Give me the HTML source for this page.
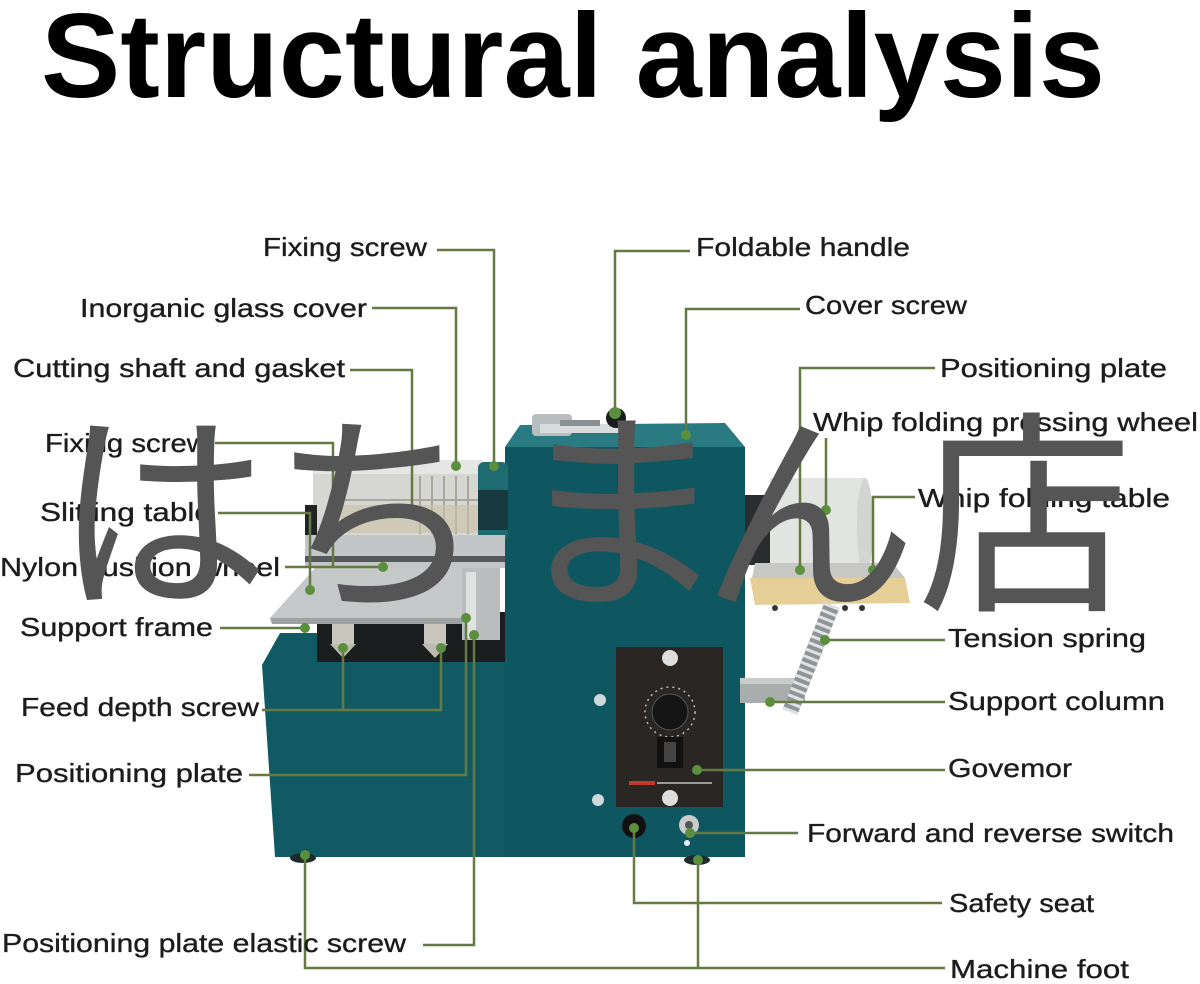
<!DOCTYPE html>
<html><head><meta charset="utf-8"><style>
html,body{margin:0;padding:0;background:#fff;}
svg{display:block;}
.lb{font-family:"Liberation Sans",sans-serif;font-size:26px;fill:#1c1c1c;stroke:#1c1c1c;stroke-width:0.35px;}
</style></head><body>
<svg width="1200" height="984" viewBox="0 0 1200 984" xmlns="http://www.w3.org/2000/svg">
<rect width="1200" height="984" fill="#fff"/>
<text x="41" y="97" font-family="Liberation Sans, sans-serif" font-weight="bold" font-size="120" fill="#000" textLength="1064" lengthAdjust="spacingAndGlyphs">Structural analysis</text>

<!-- machine -->
<polygon points="262,665 280,633 505,633 505,857 275,857" fill="#115a63"/>
<polygon points="505,447 520,425 725,423 745,447" fill="#2a7a82"/>
<rect x="505" y="447" width="240" height="410" fill="#0e5760"/>
<rect x="532" y="414" width="40" height="22" rx="4" fill="#b8bec0"/>
<rect x="540" y="424" width="90" height="9" fill="#d9dcdc"/>
<rect x="560" y="420" width="40" height="6" fill="#8a9193"/>
<circle cx="616" cy="418" r="10" fill="#1a1d1e"/>
<rect x="317" y="612" width="188" height="50" fill="#1b1e1f"/>
<rect x="332" y="618" width="22" height="28" rx="3" fill="#c8c6bd"/>
<polygon points="330,644 356,644 343,658" fill="#bdbab0"/>
<rect x="424" y="618" width="22" height="28" rx="3" fill="#c8c6bd"/>
<polygon points="422,644 448,644 435,658" fill="#bdbab0"/>
<rect x="313" y="460" width="170" height="76" fill="#d6d7d3"/>
<rect x="313" y="460" width="170" height="14" fill="#e6e7e4"/>
<g stroke="#a8a79c" stroke-width="2">
<line x1="420" y1="476" x2="420" y2="534"/><line x1="432" y1="476" x2="432" y2="534"/><line x1="444" y1="476" x2="444" y2="534"/><line x1="456" y1="476" x2="456" y2="534"/><line x1="468" y1="476" x2="468" y2="534"/>
<line x1="340" y1="500" x2="480" y2="500"/>
</g>
<rect x="330" y="505" width="150" height="28" fill="#c9bfa6" opacity="0.6"/>
<rect x="305" y="505" width="12" height="32" fill="#222"/>
<rect x="478" y="462" width="30" height="78" rx="6" fill="#1f6b72"/>
<rect x="478" y="490" width="30" height="40" fill="#173a3e"/>
<rect x="305" y="535" width="200" height="33" fill="#c3c6c7"/>
<rect x="305" y="556" width="200" height="6" fill="#55595b"/>
<polygon points="270,618 315,568 470,568 464,618" fill="#c6c9ca"/>
<polygon points="270,618 464,618 462,624 272,624" fill="#9ea2a3"/>
<rect x="462" y="568" width="38" height="72" fill="#b9bdbe"/>
<rect x="466" y="572" width="10" height="66" fill="#e0e2e2"/>
<rect x="745" y="495" width="30" height="70" fill="#2a2d2e"/>
<rect x="770" y="478" width="95" height="97" fill="#e2e4e1"/>
<ellipse cx="865" cy="526" rx="8" ry="48" fill="#d2d5d2"/>
<polygon points="755,563 893,563 905,578 752,578" fill="#c7c8c4"/>
<polygon points="750,578 905,578 910,603 755,605" fill="#e6cf97"/>
<circle cx="775" cy="608" r="3" fill="#333"/><circle cx="845" cy="608" r="3" fill="#333"/><circle cx="862" cy="608" r="3" fill="#333"/>
<rect x="740" y="678" width="65" height="25" fill="#a9adac"/>
<rect x="740" y="678" width="65" height="6" fill="#c9cccb"/>
<line x1="832" y1="605" x2="790" y2="712" stroke="#8f9597" stroke-width="16"/>
<line x1="832" y1="605" x2="790" y2="712" stroke="#e0e3e3" stroke-width="16" stroke-dasharray="3 4"/>
<rect x="616" y="647" width="107" height="160" fill="#292624"/>
<circle cx="670" cy="658" r="8" fill="#dedede"/>
<circle cx="670" cy="798" r="8" fill="#dedede"/>
<circle cx="670" cy="712" r="25" fill="none" stroke="#bbb" stroke-width="1.5" stroke-dasharray="2 4"/>
<circle cx="670" cy="712" r="18" fill="#141414" stroke="#555" stroke-width="1"/>
<rect x="657" y="737" width="26" height="31" fill="#111"/>
<rect x="664" y="742" width="12" height="20" fill="#444"/>
<rect x="629" y="781" width="26" height="4" fill="#c0392b"/>
<rect x="657" y="782" width="55" height="2" fill="#999"/>
<circle cx="600" cy="700" r="6" fill="#cfd8da"/>
<circle cx="598" cy="800" r="6" fill="#cfd8da"/>
<circle cx="634" cy="826" r="12" fill="#111"/>
<circle cx="689" cy="825" r="10" fill="#c9cccc"/>
<circle cx="689" cy="825" r="4" fill="#555"/>
<circle cx="687" cy="843" r="3" fill="#eef"/>
<ellipse cx="303" cy="858" rx="13" ry="5" fill="#1f2a2b"/>
<ellipse cx="697" cy="860" rx="13" ry="5" fill="#1f2a2b"/>

<!-- leader lines -->
<g fill="none" stroke="#647944" stroke-width="2.5">
<polyline points="437,250 494,250 494,468"/>
<polyline points="372,308 456,308 456,468"/>
<polyline points="350,370 412,370 412,512"/>
<polyline points="215,443 333,443 333,567"/>
<polyline points="218,513 310,513 310,592"/>
<polyline points="285,567 383,567"/>
<polyline points="220,628 305,628"/>
<polyline points="262,710 442,710"/>
<polyline points="343,648 343,710"/>
<polyline points="441,648 441,710"/>
<polyline points="249,775 466,775 466,618"/>
<polyline points="423,945 474,945 474,633"/>
<polyline points="305,855 305,968 945,968"/>
<polyline points="698,860 698,968"/>
<polyline points="615,413 615,251 690,251"/>
<polyline points="686,437 686,309 800,309"/>
<polyline points="800,570 800,368 935,368"/>
<polyline points="826,438 826,512"/>
<polyline points="873,572 873,497 915,497"/>
<polyline points="825,640 945,640"/>
<polyline points="770,702 945,702"/>
<polyline points="697,770 945,770"/>
<polyline points="690,833 798,833"/>
<polyline points="634,826 634,903 942,903"/>
</g>
<g fill="#5b8f3e">
<circle cx="494" cy="466" r="5"/><circle cx="456" cy="466" r="5"/>
<circle cx="310" cy="590" r="5"/><circle cx="383" cy="567" r="5"/>
<circle cx="305" cy="628" r="5"/><circle cx="343" cy="648" r="5"/><circle cx="441" cy="648" r="5"/>
<circle cx="466" cy="618" r="5"/><circle cx="474" cy="635" r="5"/>
<circle cx="305" cy="855" r="5"/><circle cx="698" cy="860" r="5"/>
<circle cx="615" cy="413" r="6"/><circle cx="686" cy="435" r="5"/>
<circle cx="800" cy="570" r="5"/><circle cx="826" cy="510" r="5"/><circle cx="873" cy="570" r="5"/>
<circle cx="825" cy="640" r="5"/><circle cx="770" cy="702" r="5"/><circle cx="697" cy="770" r="5"/>
<circle cx="690" cy="833" r="5"/><circle cx="634" cy="828" r="5"/>
</g>

<!-- labels -->
<g class="lb">
<text x="263" y="256" textLength="164" lengthAdjust="spacingAndGlyphs">Fixing screw</text>
<text x="80" y="317" textLength="287" lengthAdjust="spacingAndGlyphs">Inorganic glass cover</text>
<text x="13" y="377" textLength="332" lengthAdjust="spacingAndGlyphs">Cutting shaft and gasket</text>
<text x="45" y="452" textLength="163" lengthAdjust="spacingAndGlyphs">Fixing screw</text>
<text x="40" y="521" textLength="172" lengthAdjust="spacingAndGlyphs">Slitting table</text>
<text x="0" y="576" textLength="280" lengthAdjust="spacingAndGlyphs">Nylon cushion wheel</text>
<text x="20" y="636" textLength="193" lengthAdjust="spacingAndGlyphs">Support frame</text>
<text x="21" y="716" textLength="238" lengthAdjust="spacingAndGlyphs">Feed depth screw</text>
<text x="15" y="782" textLength="228" lengthAdjust="spacingAndGlyphs">Positioning plate</text>
<text x="2" y="952" textLength="404" lengthAdjust="spacingAndGlyphs">Positioning plate elastic screw</text>
<text x="696" y="256" textLength="214" lengthAdjust="spacingAndGlyphs">Foldable handle</text>
<text x="805" y="314" textLength="162" lengthAdjust="spacingAndGlyphs">Cover screw</text>
<text x="940" y="377" textLength="227" lengthAdjust="spacingAndGlyphs">Positioning plate</text>
<text x="813" y="431" textLength="385" lengthAdjust="spacingAndGlyphs">Whip folding pressing wheel</text>
<text x="918" y="507" textLength="252" lengthAdjust="spacingAndGlyphs">Whip folding table</text>
<text x="948" y="647" textLength="198" lengthAdjust="spacingAndGlyphs">Tension spring</text>
<text x="948" y="710" textLength="217" lengthAdjust="spacingAndGlyphs">Support column</text>
<text x="948" y="777" textLength="124" lengthAdjust="spacingAndGlyphs">Govemor</text>
<text x="807" y="842" textLength="367" lengthAdjust="spacingAndGlyphs">Forward and reverse switch</text>
<text x="949" y="912" textLength="145" lengthAdjust="spacingAndGlyphs">Safety seat</text>
<text x="950" y="978" textLength="179" lengthAdjust="spacingAndGlyphs">Machine foot</text>
</g>

<!-- watermark -->
<g font-family="Noto Sans CJK JP, sans-serif" font-size="216" fill="#555555" text-anchor="middle">
<text x="162" y="592">は</text>
<text x="378" y="594">ち</text>
<text x="620" y="592">ま</text>
<text x="809" y="594">ん</text>
<text x="1025" y="594">店</text>
</g>
</svg>
</body></html>
